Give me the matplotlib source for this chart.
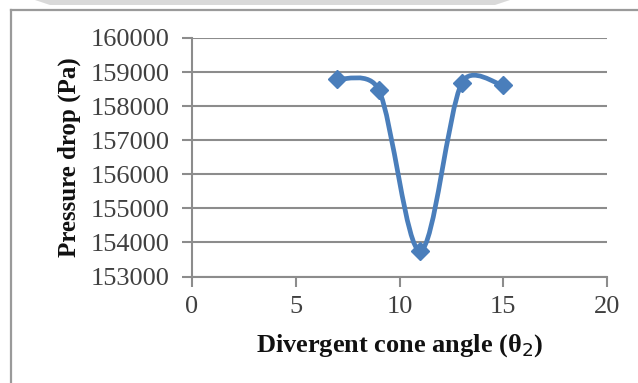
import numpy as np
import matplotlib
matplotlib.use('Agg')
import matplotlib.pyplot as plt
from matplotlib.path import Path
from matplotlib.patches import PathPatch, Polygon

# data
angle = [7, 9, 11, 13, 15]
pressure_drop = [158800, 158480, 153750, 158680, 158610]
x_ticks = [0, 5, 10, 15, 20]
y_ticks = [153000, 154000, 155000, 156000, 157000, 158000, 159000, 160000]

blue = '#4a7ebb'
grid_col = '#8c8c8c'
text_col = '#404040'

plt.rcParams['font.family'] = ['Liberation Serif', 'DejaVu Serif']

fig = plt.figure(figsize=(6.38, 3.83), dpi=100)

# outer chart border (left/top only visible) and scan shading at the top
fig.patches.append(Polygon([(35/638, 1), (510/638, 1), (495/638, 1-5/383), (50/638, 1-5/383)],
                           closed=True, transform=fig.transFigure,
                           facecolor='#d9d9d9', edgecolor='none'))
fig.lines.append(plt.Line2D([11/638, 11/638], [0, 1-10/383], transform=fig.transFigure,
                            color='#9a9a9a', lw=1.6))
fig.lines.append(plt.Line2D([11/638, 1], [1-10/383, 1-10/383], transform=fig.transFigure,
                            color='#9a9a9a', lw=1.6))

ax = fig.add_axes([192/638, 1-276.5/383, 415/638, 238.5/383])
ax.set_xlim(0, 20)
ax.set_ylim(153000, 160000)

# Excel-style smoothed line: Bezier, tangent/6 but limited to half the segment,
# worked out in display space
scr = ax.transData.transform(np.column_stack([angle, pressure_drop]).astype(float))
n = len(scr)


def ctrl(i, j, k, seg):
    t = scr[k] - scr[i]
    lt = np.hypot(*t)
    f = 1 / 6.0
    if lt / 6.0 > seg / 2.0:
        f = seg / (2.0 * lt)
    return t * f


verts = [scr[0]]
codes = [Path.MOVETO]
for i in range(n - 1):
    seg = np.hypot(*(scr[i + 1] - scr[i]))
    c1 = scr[i] + ctrl(max(i - 1, 0), i, i + 1, seg)
    c2 = scr[i + 1] - ctrl(i, i + 1, min(i + 2, n - 1), seg)
    verts += [c1, c2, scr[i + 1]]
    codes += [Path.CURVE4] * 3
verts = ax.transData.inverted().transform(np.array(verts))
ax.add_patch(PathPatch(Path(verts, codes), facecolor='none', edgecolor=blue,
                       lw=3.4, capstyle='round', joinstyle='round', zorder=3))
ax.plot(angle, pressure_drop, linestyle='none', marker='D', markersize=9.5,
        color=blue, zorder=4)

ax.set_xticks(x_ticks)
ax.set_yticks(y_ticks)
ax.yaxis.grid(True, color=grid_col, lw=1.5)
ax.set_axisbelow(True)

for s in ['top', 'right']:
    ax.spines[s].set_visible(False)
ax.spines['left'].set_color(grid_col)
ax.spines['left'].set_linewidth(1.5)
ax.spines['bottom'].set_color(grid_col)
ax.spines['bottom'].set_linewidth(1.5)

ax.tick_params(axis='both', colors=grid_col, labelcolor=text_col, labelsize=19,
               length=7, width=1.5, direction='out')
ax.tick_params(axis='y', pad=9)
ax.tick_params(axis='x', pad=7)

ax.set_xlabel('Divergent cone angle (θ$_2$)', fontsize=19, fontweight='bold',
              color='#111111', labelpad=10)
ax.set_ylabel('Pressure drop (Pa)', fontsize=18, fontweight='bold',
              color='#111111', labelpad=7)

fig.savefig('out.png', dpi=100)
